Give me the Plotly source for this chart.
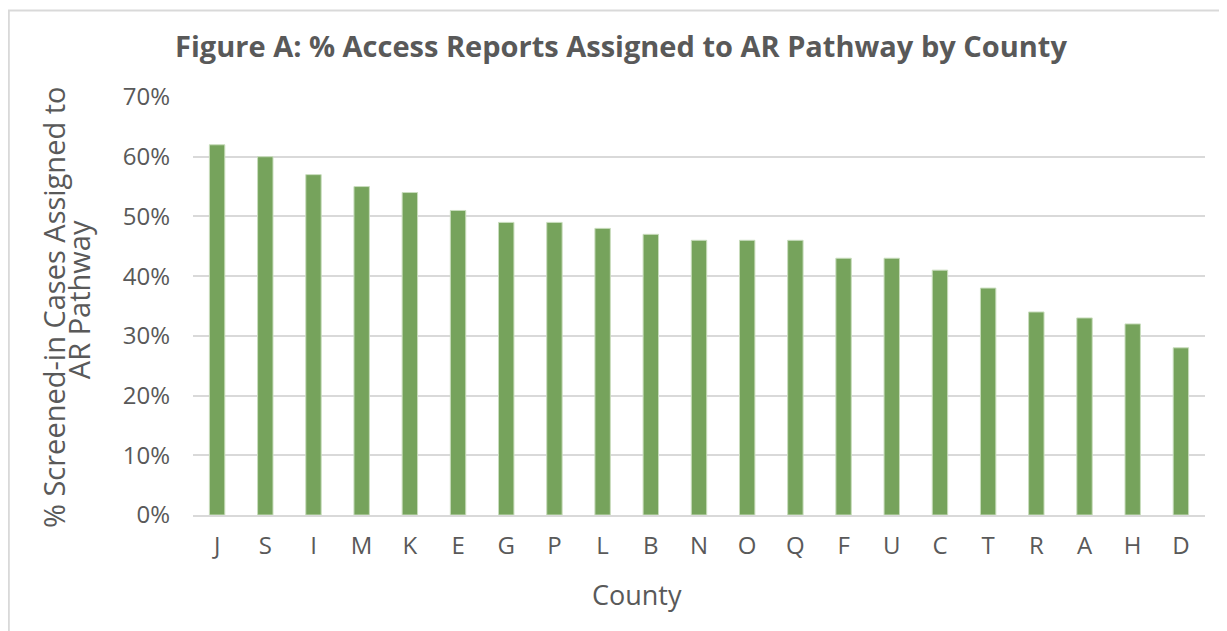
import plotly.graph_objects as go

counties = ["J", "S", "I", "M", "K", "E", "G", "P", "L", "B", "N",
            "O", "Q", "F", "U", "C", "T", "R", "A", "H", "D"]
pct_ar = [0.62, 0.60, 0.57, 0.55, 0.54, 0.51, 0.49, 0.49, 0.48, 0.47, 0.46,
          0.46, 0.46, 0.43, 0.43, 0.41, 0.38, 0.34, 0.33, 0.32, 0.28]
y_ticks = [0, 0.1, 0.2, 0.3, 0.4, 0.5, 0.6, 0.7]

grey = "#595959"
font = "Open Sans"

fig = go.Figure()
fig.add_trace(go.Bar(
    x=counties,
    y=pct_ar,
    marker=dict(color="#76A35C", line=dict(color="#C9DDBD", width=1)),
    width=0.32,
))

# light frame around the chart (only top/left edges show)
fig.add_shape(type="rect", xref="paper", yref="paper",
              x0=-0.182, x1=1.05, y0=-0.4, y1=1.207,
              line=dict(color="#D9D9D9", width=2), layer="below")

# axis titles as annotations so they sit where the original puts them
ann = dict(xref="paper", yref="paper", showarrow=False,
           xanchor="center", yanchor="middle")
fig.add_annotation(text="% Screened-in Cases Assigned to", textangle=-90,
                   x=-0.1383, y=0.4976, font=dict(family=font, size=29, color=grey), **ann)
fig.add_annotation(text="AR Pathway", textangle=-90,
                   x=-0.1125, y=0.5144, font=dict(family=font, size=29, color=grey), **ann)
fig.add_annotation(text="County", x=0.4387, y=-0.189,
                   font=dict(family=font, size=27, color=grey), **ann)

fig.update_layout(
    width=1227, height=631,
    margin=dict(l=185, r=30, t=89, b=124),
    paper_bgcolor="white", plot_bgcolor="white",
    showlegend=False,
    title=dict(text="<b>Figure A: % Access Reports Assigned to AR Pathway by County</b>",
               x=0.4996, xanchor="center", y=0.938, yanchor="middle",
               font=dict(family=font, size=29, color=grey)),
    xaxis=dict(tickfont=dict(family=font, size=24, color=grey),
               showline=True, linecolor="#D9D9D9", linewidth=2, ticks="",
               ticklabelstandoff=8),
    yaxis=dict(range=[0, 0.7], tickvals=y_ticks, tickformat=".0%",
               tickfont=dict(family=font, size=24, color=grey),
               gridcolor="#D9D9D9", gridwidth=2, zeroline=False,
               ticklabelstandoff=22),
    bargap=0.68,
)

fig.write_html("out.html")
